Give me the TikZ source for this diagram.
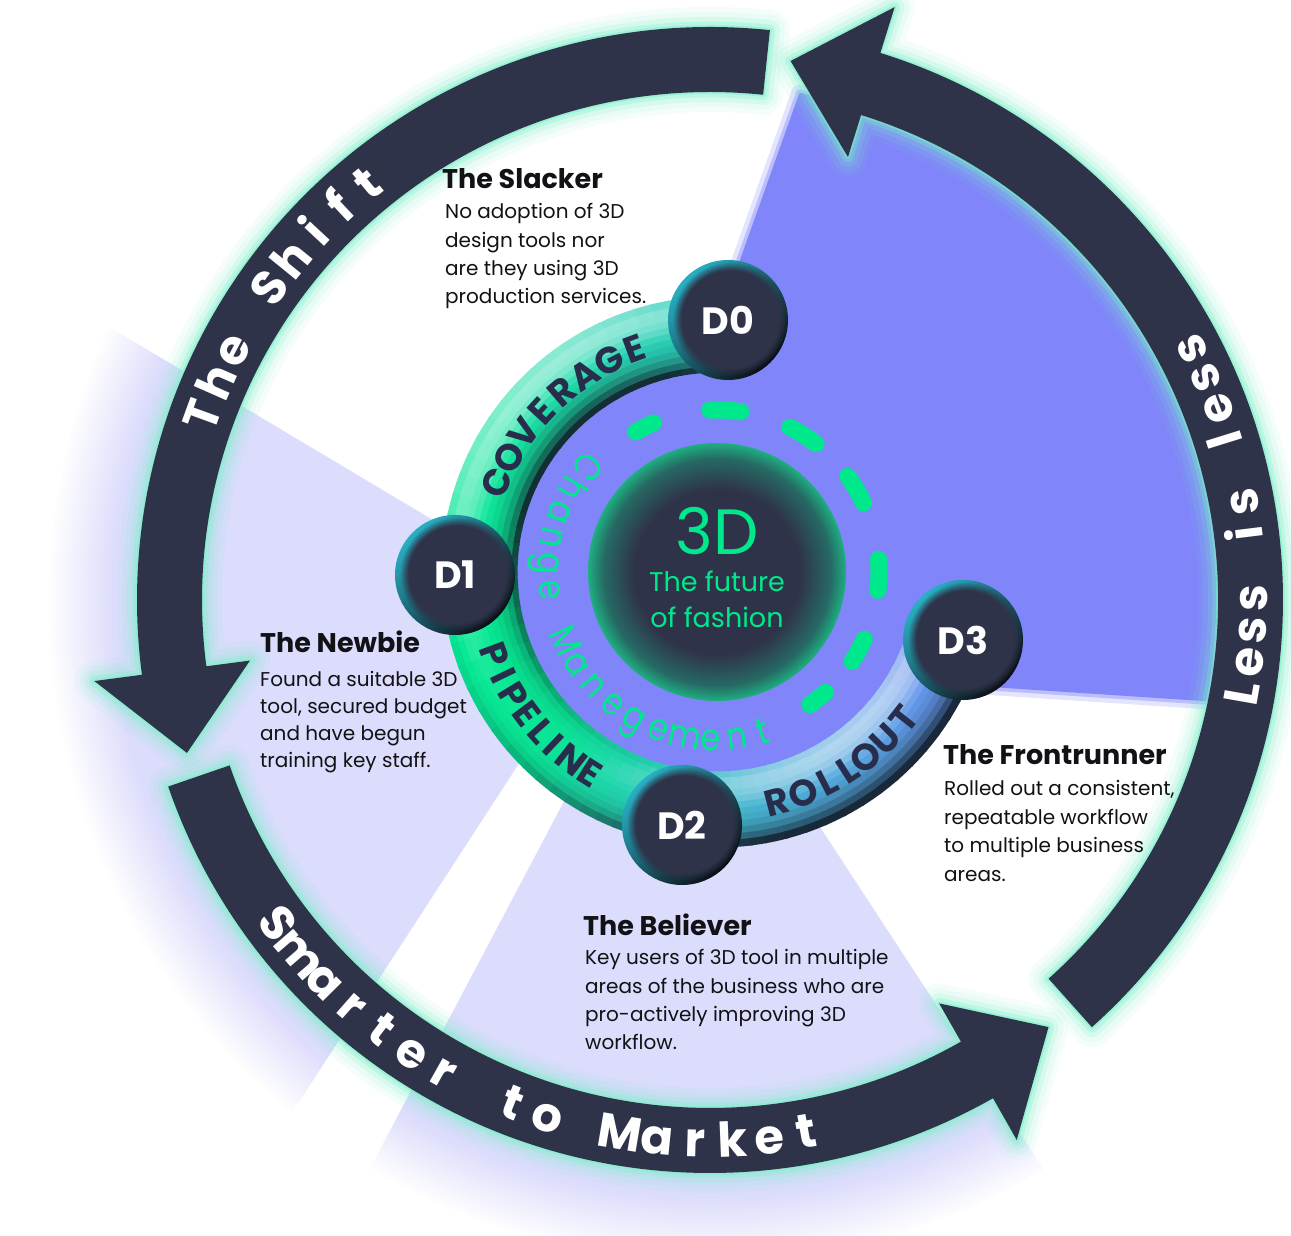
\documentclass[tikz,border=0pt]{standalone}
\usepackage{fontspec}
\setmainfont{Poppins}
\newfontfamily\narrowfam{Poppins}[FakeStretch=0.84]
\usetikzlibrary{calc,fadings}

\definecolor{navy}{RGB}{47,51,73}
\definecolor{mint}{RGB}{120,240,200}
\definecolor{violet}{RGB}{128,133,250}
\definecolor{lav}{RGB}{220,220,252}
\definecolor{neon}{RGB}{0,232,140}
\definecolor{ink}{RGB}{18,18,22}
\definecolor{tubeink}{RGB}{40,45,75}
\definecolor{dteal}{RGB}{40,175,195}
\definecolor{dblack}{RGB}{12,13,20}
\definecolor{corenavy}{RGB}{47,51,73}
\definecolor{coremid}{RGB}{38,105,100}
\definecolor{coregreen}{RGB}{30,175,128}

\pgfdeclareradialshading{coreglow}{\pgfpointorigin}{color(0bp)=(corenavy); color(16bp)=(corenavy); color(22bp)=(coremid); color(25bp)=(coregreen); color(50bp)=(coregreen)}

\newcommand\ringlbl{\fontsize{48}{48}\selectfont\bfseries}
\newcommand\tubelbl{\fontsize{37}{37}\selectfont\bfseries}
\newcommand\cmlbl{\narrowfam\fontsize{38}{38}\selectfont}
\newcommand\titlefnt{\fontsize{27}{27}\selectfont\bfseries}
\newcommand\bodyfnt{\fontsize{20}{20}\selectfont}
\newcommand\dfnt{\fontsize{38}{38}\selectfont\bfseries}

% letters set one by one along a circular arc, spread to fill the given angles
% #1 centre, #2 baseline radius, #3 first angle, #4 last angle, #5 font, #6 colour, #7 name prefix, #8 characters
\newcommand\arcletters[8]{%
  \gdef\alsum{0}\gdef\alcount{0}%
  \foreach \ch in {#8}{%
    \setbox0=\hbox{#5\ch}\edef\alw{\the\wd0}%
    \pgfmathsetmacro\altmp{\alsum+\alw}\xdef\alsum{\altmp}%
    \pgfmathsetmacro\altmp{\alcount+1}\xdef\alcount{\altmp}%
  }%
  \pgfmathsetmacro\aldir{ifthenelse(#4>#3,1,-1)}%
  \pgfmathsetmacro\altrack{(abs(#4-#3)/57.29578*#2-\alsum)/(\alcount-1)}%
  \xdef\alang{#3}%
  \foreach \ch [count=\ci] in {#8}{%
    \setbox0=\hbox{#5\ch}\edef\alw{\the\wd0}%
    \pgfmathsetmacro\almid{\alang+\aldir*(\alw/2)/#2*57.29578}%
    \node[name=#7-\ci, rotate=\almid+\aldir*90, anchor=base, inner sep=0pt, outer sep=0pt, text=#6, font=#5] at ($(#1)+(\almid:#2)$) {\ch};%
    \pgfmathsetmacro\altmp{\alang+\aldir*(\alw+\altrack)/#2*57.29578}%
    \xdef\alang{\altmp}%
  }%
}

\tikzset{
  title/.style={anchor=base west, inner sep=0pt, font=\titlefnt, text=ink},
  body/.style={anchor=base west, inner sep=0pt, font=\bodyfnt, text=ink},
  dlabel/.style={font=\dfnt, text=white, inner sep=0pt},
  corelbl/.style={anchor=base, inner sep=0pt, text=neon},
  glowline/.style={draw=mint, line join=round},
  ringarrow/.style 2 args={insert path={($(O)+(#1:573)$) arc[start angle=#1, end angle=#2, radius=573] -- ($(O)+(#2:621)$) -- ($(O)+({#2+8.8}:545)$) -- ($(O)+(#2:464)$) -- ($(O)+(#2:508)$) arc[start angle=#2, end angle=#1, radius=508] -- cycle}},
  wedge/.style={insert path={(629,663) -- ($(O)+(80:515)$) arc[start angle=80, end angle=-11.4, radius=515] -- (717,566) -- cycle}},
}

\begin{document}
\begin{tikzpicture}[x=1pt,y=1pt]
\useasboundingbox (0,0) rectangle (1291,1235);
\fill[white] (0,0) rectangle (1291,1235);

\coordinate (O) at (710,635);
\coordinate (C2) at (717,663);
\coordinate (D0) at (728,915);
\coordinate (D1) at (455,660);
\coordinate (D2) at (682,410);
\coordinate (D3) at (963,595);

% pale lavender sectors with fuzzy rims
\begin{scope}
  \clip (609,610) -- (-481,1260) -- (-1000,635) -- (-431,-990) -- cycle;
  \fill[lav, path fading=circle with fuzzy edge 10 percent] (O) circle (660);
\end{scope}
\begin{scope}
  \clip (671,636) -- (-141,-900) -- (1727,-980) -- cycle;
  \fill[lav, path fading=circle with fuzzy edge 10 percent] (O) circle (660);
\end{scope}

% violet wedge and inner disc
\path[draw=violet, line width=16pt, draw opacity=0.22, line join=round, wedge];
\path[draw=violet, line width=7pt, draw opacity=0.4, line join=round, wedge];
\path[fill=violet, wedge];
\fill[violet] (C2) circle (206);

% outer arrows: glow, then body
\foreach \w/\op in {40/0.07, 30/0.10, 20/0.16, 11/0.28, 4/0.5} {
  \path[glowline, line width=\w pt, draw opacity=\op, ringarrow={84}{187.5}];
  \path[glowline, line width=\w pt, draw opacity=\op, ringarrow={199}{299.6}];
  \path[glowline, line width=\w pt, draw opacity=\op, ringarrow={-48.2}{72.7}];
}
\path[fill=navy, ringarrow={84}{187.5}];
\path[fill=navy, ringarrow={199}{299.6}];
\path[fill=navy, ringarrow={-48.2}{72.7}];

\arcletters{O}{523}{160}{129.4}{\ringlbl}{white}{shift}{T,h,e,~,S,h,i,f,t}
\arcletters{O}{557}{216.8}{280.3}{\ringlbl}{white}{market}{S,m,a,r,t,e,r,~,t,o,~,M,a,r,k,e,t}
\arcletters{O}{557}{-10}{27.5}{\ringlbl}{white}{less}{L,e,s,s,~,i,s,~,l,e,s,s}

% shaded tube ring from D0 round to D3
\foreach \aa/\ab/\ra/\ga/\ba/\rb/\gb/\bb in {85/115/46/200/188/40/212/178, 115/150/40/212/178/20/228/160, 150/185/20/228/160/5/234/146, 185/225/5/234/146/10/230/150, 225/255/10/230/150/45/205/185, 255/280/45/205/185/72/180/212, 280/315/72/180/212/92/160/228, 315/348/92/160/228/112/138/242}{
  \foreach \s in {0,...,7}{
    \pgfmathsetmacro\angA{\aa+(\ab-\aa)*\s/8}
    \pgfmathsetmacro\angB{\aa+(\ab-\aa)*(\s+1)/8+0.6}
    \pgfmathsetmacro\angM{\aa+(\ab-\aa)*(\s+0.5)/8}
    \pgfmathsetmacro\fr{(\s+0.5)/8}
    \pgfmathsetmacro\cR{\ra+(\rb-\ra)*\fr}
    \pgfmathsetmacro\cG{\ga+(\gb-\ga)*\fr}
    \pgfmathsetmacro\cB{\ba+(\bb-\ba)*\fr}
    \pgfmathsetmacro\lx{-0.5*cos(\angM)+0.55*sin(\angM)}
    \foreach \kb in {0,...,11}{
      \pgfmathsetmacro\tq{-11/12+\kb/6}
      \pgfmathsetmacro\dd{\tq*\lx+0.67*sqrt(1-\tq*\tq)}
      \pgfmathsetmacro\hw{max(0,min(1,(\dd-0.67)/0.33))*0.55}
      \pgfmathsetmacro\kq{max(0,min(1,0.67-\dd))}
      \pgfmathsetmacro\dk{\kq*(0.4+0.6*\kq)*0.9}
      \pgfmathtruncatemacro\RR{\cR*(1-\hw-\dk)+255*\hw+18*\dk}
      \pgfmathtruncatemacro\GG{\cG*(1-\hw-\dk)+255*\hw+28*\dk}
      \pgfmathtruncatemacro\BB{\cB*(1-\hw-\dk)+255*\hw+40*\dk}
      \pgfmathsetmacro\rlo{237.5+37.5*(\tq-1/12)-0.6}
      \pgfmathsetmacro\rhi{237.5+37.5*(\tq+1/12)+0.6}
      \fill[fill={rgb,255:red,\RR;green,\GG;blue,\BB}] ($(C2)+(\angA:\rlo)$) arc[start angle=\angA, end angle=\angB, radius=\rlo] -- ($(C2)+(\angB:\rhi)$) arc[start angle=\angB, end angle=\angA, radius=\rhi] -- cycle;
    }
  }
}

\arcletters{C2}{224.5}{157.9}{110.3}{\tubelbl}{tubeink}{cov}{C,O,V,E,R,A,G,E}
\arcletters{C2}{250.5}{200.3}{237.6}{\tubelbl}{tubeink}{pipe}{P,I,P,E,{L\kern-5pt},I,N,E}
\arcletters{C2}{250.5}{284.7}{321.8}{\tubelbl}{tubeink}{roll}{R,O,{L\kern-4pt},{L\kern-5pt},O,U,T}
\arcletters{C2}{179}{141}{286}{\cmlbl}{neon}{cm}{C,h,a,n,g,e,~,M,a,n,e,g,e,m,e,n,t}

% dashed neon arc
\foreach \a/\h in {116.6/3.5, 87/5.5, 57.8/5.5, 30.7/5.5, -1/5.5, -29/4.5, -51.5/3.5} {
  \draw[neon, line width=17pt, line cap=round] ($(C2)+({\a+\h}:162)$) arc[start angle=\a+\h, end angle=\a-\h, radius=162];
}

% core
\shade[shading=coreglow] (C2) circle (129);
\node[corelbl, font=\fontsize{64}{64}\selectfont] (core3d) at (717,680) {3D};
\node[corelbl, font=\fontsize{27}{27}\selectfont] (coreA) at (717,643) {The future};
\node[corelbl, font=\fontsize{27}{27}\selectfont] (coreB) at (717,607) {of fashion};

% stage spheres
\foreach \p in {D0,D1,D2,D3} {
  \shade[top color=dteal, bottom color=dblack, shading angle=45] (\p) circle (60);
  \fill[navy, path fading=circle with fuzzy edge 15 percent] ($(\p)+(2,1)$) circle (57);
}
\node[dlabel] (d0) at (D0) {D0};
\node[dlabel] (d1) at (D1) {D1};
\node[dlabel] (d2) at (D2) {D2};
\node[dlabel] (d3) at (D3) {D3};

% descriptions
\node[title] (slackT) at (442,1046) {The Slacker};
\node[body] (slack1) at (445,1016) {No adoption of 3D};
\node[body] (slack2) at (445,987.7) {design tools nor};
\node[body] (slack3) at (445,959.4) {are they using 3D};
\node[body] (slack4) at (445,931.1) {production services.};

\node[title] (newT) at (260,582) {The Newbie};
\node[body] (new1) at (260,548) {Found a suitable 3D};
\node[body] (new2) at (260,521) {tool, secured budget};
\node[body] (new3) at (260,494) {and have begun};
\node[body] (new4) at (260,467) {training key staff.};

\node[title] (frontT) at (943,470) {The Frontrunner};
\node[body] (front1) at (944,439) {Rolled out a consistent,};
\node[body] (front2) at (944,410.5) {repeatable workflow};
\node[body] (front3) at (944,382) {to multiple business};
\node[body] (front4) at (944,353.5) {areas.};

\node[title] (belT) at (583,299) {The Believer};
\node[body] (bel1) at (585,270) {Key users of 3D tool in multiple};
\node[body] (bel2) at (585,241.7) {areas of the business who are};
\node[body] (bel3) at (585,213.4) {pro-actively improving 3D};
\node[body] (bel4) at (585,185.1) {workflow.};
\end{tikzpicture}
\end{document}
